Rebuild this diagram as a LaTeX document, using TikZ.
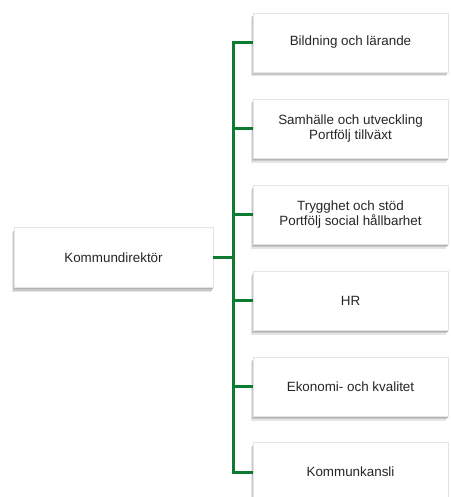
\documentclass[tikz,border=0pt]{standalone}
\usepackage{fontspec}
\setmainfont{Liberation Sans}
\definecolor{bargreen}{RGB}{14,122,50}
\definecolor{txt}{RGB}{38,38,38}
\begin{document}
\begin{tikzpicture}[x=1pt,y=-1pt,
  box/.style={rectangle, fill=white, draw=black!10, line width=0.5pt,
    text=txt, align=center, inner sep=2pt,
    font=\fontsize{13.4}{15.2}\selectfont,
    preaction={fill=black!10, transform canvas={xshift=-2pt,yshift=-4.5pt}},
    preaction={fill=black!22, transform canvas={xshift=-1pt,yshift=-3pt}},
    preaction={fill=black!30, transform canvas={xshift=-0.5pt,yshift=-1.5pt}}},
  leftbox/.style={box, minimum width=199pt, minimum height=60pt},
  rightbox/.style={box, minimum width=195pt, minimum height=59pt},
  conn/.style={draw=bargreen, line width=3pt}]
\useasboundingbox (0,0) rectangle (450,497);
\begin{scope}
\clip (0,0) rectangle (450,497);
\coordinate (bx) at (233,0);
\node[leftbox] (k) at (113.5,257.5) {Kommundirektör};
\node[rightbox] (b1) at (350.5,42.5) {Bildning och lärande};
\node[rightbox] (b2) at (350.5,128.5) {Samhälle och utveckling\\Portfölj tillväxt};
\node[rightbox] (b3) at (350.5,214.5) {Trygghet och stöd\\Portfölj social hållbarhet};
\node[rightbox] (b4) at (350.5,300.5) {HR};
\node[rightbox] (b5) at (350.5,386.5) {Ekonomi- och kvalitet};
\node[rightbox] (b6) at (350.5,472) {Kommunkansli};
\draw[conn, line cap=rect] (b1.west -| bx) -- (b6.west -| bx);
\draw[conn] (k.east) -- (k.east -| bx);
\foreach \b in {b1,b2,b3,b4,b5,b6}{
  \draw[conn] (\b.west -| bx) -- (\b.west);
}
\end{scope}
\end{tikzpicture}
\end{document}
